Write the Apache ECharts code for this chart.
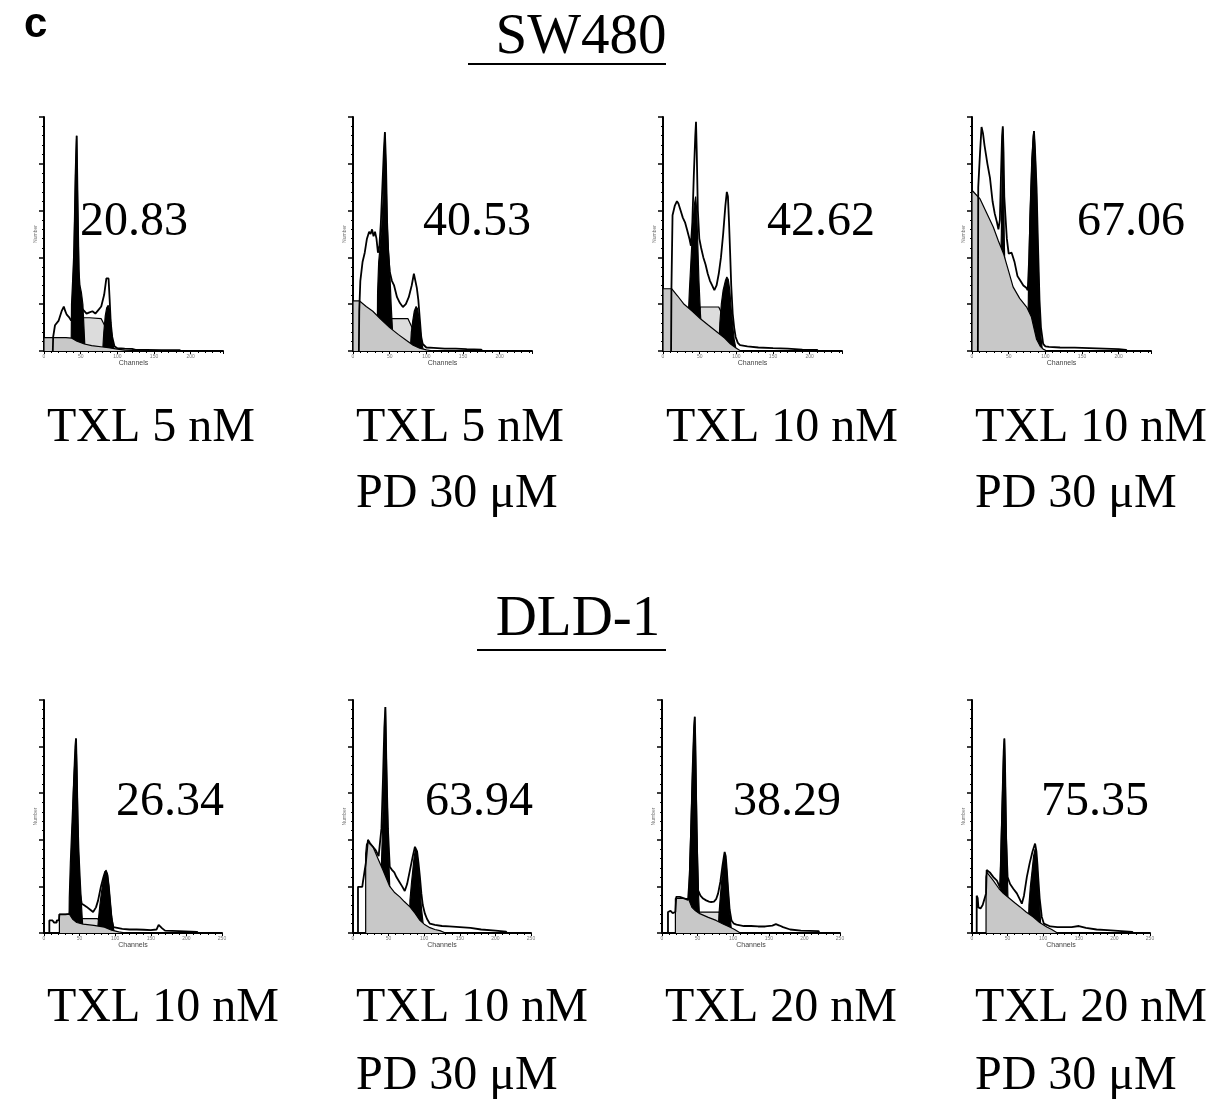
<!DOCTYPE html>
<html>
<head>
<meta charset="utf-8">
<title>SW480 / DLD-1 cell cycle</title>
<script src="https://cdn.jsdelivr.net/npm/echarts@6/dist/echarts.min.js"></script>
<style>
    html, body { margin: 0; padding: 0; background: #fff; }
    #chart { width: 1223px; height: 1104px; }
</style>
</head>
<body>
<div id="chart"></div>
<script>
    // 直方图数据: [channel, 相对计数 0-100]
    // SW480 TXL 5 nM
    const swTxl5Outline = [[12, 0], [12.5, 6], [15, 11], [20, 13], [24, 17], [27, 19], [29, 17], [31, 15.5], [34, 14.5], [37, 13], [39, 14], [41, 40], [43, 75], [44.5, 92], [46, 60], [47.5, 30], [49, 21], [52, 18], [55, 17], [58, 16], [62, 16.5], [66, 17], [70, 16], [74, 17.5], [78, 19], [82, 24], [85, 31], [86.5, 30.5], [88, 31], [89.5, 22], [91, 12], [93, 6], [96, 2], [100, 1.2], [110, 1], [120, 0.9], [125, 0.5], [140, 0.5], [160, 0.4], [185, 0.4], [186, 0]]
    const swTxl5Debris = [[0, 0], [0, 5.7], [30, 5.7], [38, 5.5], [45, 4.2], [55, 3], [65, 2.3], [80, 1.7], [90, 1.3], [100, 0.8], [110, 0.4], [130, 0.2], [180, 0.1], [181, 0]]
    const swTxl5SPhase = [[40, 0], [42, 6], [46, 12.5], [50, 14.2], [62, 14.2], [78, 13.8], [84, 10], [89, 5], [93, 1.5], [96, 0]]
    const swTxl5G1 = [[37, 0], [37.5, 20], [39, 30], [41, 45], [43, 75], [44.5, 92], [46, 60], [47.5, 35], [49, 28], [51, 25], [53, 20], [54.5, 10], [56, 0]]
    const swTxl5G2 = [[80, 0], [81.5, 8], [83.5, 15], [85.5, 18.5], [87.5, 19.5], [89, 18], [90.5, 14], [92, 8], [94, 3], [96, 0]]

    // SW480 TXL 5 nM + PD 30 uM
    const swTxl5PdOutline = [[8, 0], [8.5, 17], [10, 30], [13, 38], [16, 42], [19, 48], [22, 51], [24, 50], [26, 52], [28, 49], [30, 51], [32, 48], [34, 42], [36, 45], [38, 55], [40, 70], [42, 85], [43.5, 93.6], [45, 80], [46.5, 55], [48, 42], [50, 34], [53, 30], [56, 28], [60, 23], [64, 20.5], [68, 18.8], [72, 20], [76, 23], [80, 28], [83, 33], [85, 32.5], [87, 27], [89, 22], [91, 14], [93, 6], [95, 3], [100, 1.5], [110, 1.3], [125, 1], [140, 1], [155, 0.8], [175, 0.6], [176, 0]]
    const swTxl5PdDebris = [[0, 0], [0, 21.4], [9, 21.4], [18, 19], [27, 17], [38, 13.5], [50, 10], [62, 7], [73, 4.5], [82, 2.5], [91, 1.2], [100, 0.5], [110, 0]]
    const swTxl5PdSPhase = [[43, 0], [45, 10], [48, 13.8], [60, 13.8], [75, 13.8], [82, 9], [88, 4], [93, 1], [96, 0]]
    const swTxl5PdG1 = [[33, 0], [33.5, 25], [35, 38], [37, 45], [39, 52], [41, 65], [42.5, 85], [43.5, 93], [45, 75], [46.5, 55], [48, 45], [50, 35], [52, 20], [54, 8], [56, 0]]
    const swTxl5PdG2 = [[78, 0], [79.5, 8], [81.5, 13], [83.5, 17], [86, 19], [88, 18], [90, 14], [92, 8], [94, 3], [96, 0]]

    // SW480 TXL 10 nM
    const swTxl10Outline = [[11, 0], [11.5, 26.6], [13, 58], [16, 62], [19, 64], [21, 63], [24, 60], [27, 57], [30, 55], [33, 51.6], [36, 48], [38, 45], [40, 55], [42, 75], [44, 92], [45, 98], [46, 85], [47.5, 60], [49.5, 48], [52, 44], [55, 40], [58, 37], [61, 33], [64, 30], [67, 28], [70, 26], [73, 28], [76, 33], [79, 40], [82, 50], [85, 62], [87, 68], [88.5, 66], [90, 55], [91.5, 42], [93, 28], [95, 16], [97, 10], [99, 6], [102, 3.5], [105, 2.5], [115, 2], [130, 1.5], [150, 1.2], [170, 1], [190, 0.6], [210, 0.5], [211, 0]]
    const swTxl10Debris = [[0, 0], [0, 26.6], [12, 26.6], [20, 23.5], [28, 20.2], [40, 17], [51, 13.8], [62, 11], [74, 8], [84, 5.5], [92, 3], [100, 1.2], [106, 0]]
    const swTxl10SPhase = [[45, 0], [47, 15], [51, 18.8], [62, 18.8], [76, 18.8], [83, 14], [90, 8], [96, 3], [100, 0]]
    const swTxl10G1 = [[34, 0], [34.5, 15], [36, 26], [38, 38], [40, 50], [42.5, 62], [44.5, 66], [46, 60], [47.5, 45], [49, 30], [51, 16], [53, 6], [55, 0]]
    const swTxl10G2 = [[76, 0], [77.5, 12], [79.5, 20], [82, 26], [85, 30], [87, 31.6], [89, 30.5], [91, 26], [93, 18], [95, 11], [97, 5], [100, 0]]

    // SW480 TXL 10 nM + PD 30 uM
    const swTxl10PdOutline = [[8, 0], [8.5, 70], [11, 85], [13, 95.7], [15, 93], [17, 88], [19, 84], [21, 80], [24.5, 74], [28, 64], [31, 58.7], [34, 55], [36, 52], [38, 56], [39.5, 75], [41, 92], [42, 96], [43, 85], [44, 66], [45.5, 58], [47.5, 48], [50, 41.6], [54, 42], [58, 38], [62, 32], [66, 30], [70, 28], [74, 27], [76, 26], [78, 40], [80, 62], [82, 80], [83.5, 90], [84.5, 94], [86, 85], [88, 70], [90, 45], [92, 22], [94, 10], [97, 3], [100, 2], [105, 1.8], [120, 1.5], [140, 1.4], [160, 1.2], [180, 1], [200, 0.8], [210, 0.5], [211, 0]]
    const swTxl10PdDebris = [[0, 0], [0, 68.7], [5, 67], [11, 65], [20, 59], [29, 53], [36, 47], [43, 41.6], [50, 34], [56, 27.4], [65, 22.5], [74.5, 18.8], [81, 14.5], [85, 9], [88, 5], [93, 2], [97, 0.8], [102, 0]]
    const swTxl10PdSPhase = []
    const swTxl10PdG1 = [[38, 0], [38.5, 30], [40, 50], [41, 75], [42, 95], [43, 72], [44, 48], [45, 30], [46, 10], [47, 0]]
    const swTxl10PdG2 = [[76, 0], [77, 28], [79, 58], [81.5, 82], [83.5, 92], [84.5, 94], [86, 86], [88, 66], [90, 40], [92, 18], [94, 6], [96, 0]]

    // DLD-1 TXL 10 nM
    const dldTxl10Outline = [[7.5, 0], [7.5, 5.4], [12, 5.4], [14, 4.5], [17.8, 4.5], [18, 5.4], [21, 5.4], [21.6, 8], [30, 8], [36, 8.2], [38, 15], [40, 40], [42, 65], [44, 80], [45, 83.5], [46, 70], [48, 35], [50, 18], [53, 12.6], [56, 12], [60, 11.2], [65, 10], [69, 9], [73, 11], [76, 14], [80, 20], [83.5, 24], [86, 26.5], [87.5, 27], [89, 25], [91, 20], [93, 13], [95, 6], [97.5, 2.5], [100, 1.8], [110, 1.8], [120, 1.5], [130, 1.5], [140, 1.4], [150, 1.2], [158, 1.5], [161, 3.5], [163, 4], [166, 2], [170, 1], [190, 0.8], [215, 0.5], [216, 0]]
    const dldTxl10Debris = [[21.6, 0], [21.6, 8], [36, 8], [40, 6], [46, 4.5], [55, 3.8], [70, 3.3], [85, 2.5], [95, 1.2], [105, 0.5], [115, 0]]
    const dldTxl10SPhase = [[46, 0], [48, 5], [52, 6.2], [75, 6.2], [82, 4], [88, 2], [93, 0]]
    const dldTxl10G1 = [[35, 0], [35.5, 15], [37, 30], [39, 45], [41, 60], [43, 72], [44.5, 80], [45, 83.5], [46, 72], [47.5, 50], [49, 35], [51, 22], [53, 10], [55, 0]]
    const dldTxl10G2 = [[75, 0], [76.5, 6], [78.5, 12], [80.5, 17], [82.5, 21], [85, 25], [87, 27], [89, 25.5], [91, 20], [93, 13], [95, 7], [97.5, 2], [99, 0]]

    // DLD-1 TXL 10 nM + PD 30 uM
    const dldTxl10PdOutline = [[7, 0], [7, 19.8], [13, 19.8], [14, 22], [16, 26], [18, 30], [21, 40], [24, 38.5], [28, 37], [32, 35.5], [36, 33], [38, 33], [40, 45], [42, 65], [44, 88], [45.5, 97], [47, 70], [49, 45], [51.6, 28.4], [55, 27], [58, 26], [61, 24], [65, 22], [69, 20], [72.7, 18], [76, 21], [80, 27], [84, 33], [87, 37], [88.5, 37.7], [90, 35], [92, 30], [94, 24], [96, 17], [98, 12], [101, 8.3], [104, 6], [108, 4], [115, 3.5], [125, 3], [135, 2.8], [150, 2.5], [165, 2.2], [180, 1.5], [200, 1], [215, 0.6], [216, 0]]
    const dldTxl10PdDebris = [[17.8, 0], [17.8, 34], [19, 38], [21, 39], [28, 37], [35, 32], [42, 27], [51.6, 20], [58, 17.5], [65.7, 15.5], [72, 13.5], [80, 11.2], [87, 8.5], [94, 5.4], [100, 3.8], [108, 2.3], [115, 1.5], [122, 1], [130, 0]]
    const dldTxl10PdSPhase = []
    const dldTxl10PdG1 = [[39, 0], [39.5, 25], [41, 40], [43, 60], [44.5, 85], [45.5, 97], [46.5, 82], [48, 58], [49.5, 40], [51, 25], [52.5, 12], [54, 0]]
    const dldTxl10PdG2 = [[79, 0], [80, 14], [82, 21], [84, 27], [86, 33], [88, 36], [90, 34], [92, 28], [94, 20], [96, 11], [98.5, 4], [100, 0]]

    // DLD-1 TXL 20 nM
    const dldTxl20Outline = [[8.4, 0], [8.4, 9], [12, 9.5], [15, 8.5], [17.8, 9], [18.8, 9], [20, 15.5], [25, 15.5], [30, 15], [36.6, 14.2], [39, 25], [41, 45], [43, 70], [45, 88], [46, 92.8], [47, 80], [48.5, 45], [50.7, 18.3], [54, 16], [57.7, 14.8], [62, 14], [66, 13.5], [69, 13.3], [73, 13.5], [76, 14.5], [78.8, 17], [82, 22], [85, 29], [87, 33], [88, 34.8], [89.5, 33], [91, 27], [93, 18], [95, 10], [97.6, 5.4], [101, 4], [104.6, 3.6], [115, 3], [125, 3], [135, 2.8], [145, 2.8], [155, 3.2], [160, 3.8], [165, 3.2], [170, 2.5], [180, 1.5], [195, 1], [220, 0.8], [221, 0]]
    const dldTxl20Debris = [[18.8, 0], [18.8, 14.8], [37, 14.8], [42, 11], [47, 9.5], [53, 8.3], [65, 6.7], [76, 5.4], [85, 4], [95, 2.6], [102, 1.5], [110, 0]]
    const dldTxl20SPhase = [[47, 0], [49, 7], [51, 9], [65, 9], [80, 9], [86, 5.5], [92, 2.5], [97, 0]]
    const dldTxl20G1 = [[37, 0], [37.5, 15], [39, 30], [41, 50], [43, 70], [45, 88], [46, 92.8], [47, 78], [48.5, 55], [50, 30], [51.5, 15], [53, 5], [54, 0]]
    const dldTxl20G2 = [[79, 0], [80, 8], [82, 16], [84, 23], [86.5, 30], [88, 33], [89.5, 31.5], [91, 26], [93, 17], [95, 9], [97, 3], [98, 0]]

    // DLD-1 TXL 20 nM + PD 30 uM
    const dldTxl20PdOutline = [[6.6, 0], [6.6, 16], [8, 15], [9, 11], [12, 10.5], [15, 12], [18.3, 15.5], [19.7, 17], [20.6, 27], [25, 26], [30, 24], [35, 22.5], [39.4, 19.5], [41, 35], [43, 60], [44.5, 78], [45.5, 83.5], [46.5, 70], [48, 40], [50, 24], [53.5, 21], [58, 19], [63, 17], [67, 14.5], [70, 12.6], [73, 16], [77, 24], [81, 30], [85, 35], [88.6, 38.4], [90.5, 35], [92, 29], [93, 24], [95, 15], [98, 6.9], [101, 4], [103, 3.2], [110, 2.8], [120, 2.5], [130, 2.5], [140, 2.5], [150, 3], [160, 2.2], [175, 1.5], [190, 1.2], [210, 0.8], [225, 0.5], [226, 0]]
    const dldTxl20PdDebris = [[19.7, 0], [19.7, 24], [21, 26], [30, 22.5], [38, 19], [44, 17], [52, 15], [60, 13], [67.5, 11.2], [76, 9], [86, 6.9], [95, 4.5], [105, 2.6], [112, 1.5], [120, 0]]
    const dldTxl20PdSPhase = []
    const dldTxl20PdG1 = [[39, 0], [39.5, 20], [41, 40], [43, 62], [44.5, 78], [45.5, 83.5], [46.5, 72], [47.5, 52], [49, 32], [50.5, 15], [52, 0]]
    const dldTxl20PdG2 = [[79, 0], [80, 12], [82, 20], [84.5, 27], [86.5, 33], [88.6, 36], [90, 34.5], [91.5, 29], [93, 21], [95, 12], [97, 0]]

    // 每个面板的百分比数值和处理条件
    const percentValues = ['20.83', '40.53', '42.62', '67.06', '26.34', '63.94', '38.29', '75.35']
    const treatmentLabels = [
        ['TXL 5 nM'], ['TXL 5 nM', 'PD 30 μM'], ['TXL 10 nM'], ['TXL 10 nM', 'PD 30 μM'],
        ['TXL 10 nM'], ['TXL 10 nM', 'PD 30 μM'], ['TXL 20 nM'], ['TXL 20 nM', 'PD 30 μM']
    ]
    const cellLines = ['SW480', 'DLD-1']
    const channelMax = [244, 250]

    const panels = [
        [swTxl5Outline, swTxl5Debris, swTxl5SPhase, swTxl5G1, swTxl5G2],
        [swTxl5PdOutline, swTxl5PdDebris, swTxl5PdSPhase, swTxl5PdG1, swTxl5PdG2],
        [swTxl10Outline, swTxl10Debris, swTxl10SPhase, swTxl10G1, swTxl10G2],
        [swTxl10PdOutline, swTxl10PdDebris, swTxl10PdSPhase, swTxl10PdG1, swTxl10PdG2],
        [dldTxl10Outline, dldTxl10Debris, dldTxl10SPhase, dldTxl10G1, dldTxl10G2],
        [dldTxl10PdOutline, dldTxl10PdDebris, dldTxl10PdSPhase, dldTxl10PdG1, dldTxl10PdG2],
        [dldTxl20Outline, dldTxl20Debris, dldTxl20SPhase, dldTxl20G1, dldTxl20G2],
        [dldTxl20PdOutline, dldTxl20PdDebris, dldTxl20PdSPhase, dldTxl20PdG1, dldTxl20PdG2]
    ]

    // 布局
    const gridLefts = [44, 353, 663, 972, 44, 353, 662, 972]
    const rowTops = [117, 700]
    const rowHeights = [234, 233]
    const rowWidths = [179, 178]
    const valueCenters = [134, 477, 821, 1131, 170, 479, 787, 1095]
    const valueBaselines = [238, 818]
    const labelBaselines = [[444, 510], [1024, 1092]]
    const serif = 'Liberation Serif, Times New Roman, serif'

    const grids = []
    const xAxes = []
    const yAxes = []
    const series = []
    const graphics = []

    function fillSeries (idx, data, fill, z) {
        return {
            type: 'line',
            xAxisIndex: idx,
            yAxisIndex: idx,
            data: data,
            symbol: 'none',
            silent: true,
            z: z,
            lineStyle: { color: '#000', width: 1.2 },
            areaStyle: { color: fill, opacity: 1 }
        }
    }

    panels.forEach((p, i) => {
        const row = i < 4 ? 0 : 1
        grids.push({ left: gridLefts[i], top: rowTops[row], width: rowWidths[row], height: rowHeights[row] })
        xAxes.push({
            type: 'value',
            gridIndex: i,
            min: 0,
            max: channelMax[row],
            interval: 50,
            name: 'Channels',
            nameLocation: 'middle',
            nameGap: 9,
            nameTextStyle: { fontSize: 7, color: '#444', fontFamily: 'Liberation Sans' },
            axisLine: { lineStyle: { color: '#000', width: 2 } },
            axisTick: { length: 3, lineStyle: { color: '#000' } },
            minorTick: { show: true, splitNumber: 5, length: 2, lineStyle: { color: '#000' } },
            axisLabel: {
                fontSize: 5,
                color: '#777',
                margin: 3,
                formatter: v => (v % 50 === 0 ? String(v) : '')
            },
            splitLine: { show: false }
        })
        yAxes.push({
            type: 'value',
            gridIndex: i,
            min: 0,
            max: 100,
            interval: 20,
            name: 'Number',
            nameLocation: 'middle',
            nameGap: 6,
            nameTextStyle: { fontSize: 5, color: '#777' },
            axisLine: { show: true, lineStyle: { color: '#000', width: 2 } },
            axisTick: { show: true, length: 5, lineStyle: { color: '#000', width: 1.5 } },
            minorTick: { show: true, splitNumber: 5, length: 2, lineStyle: { color: '#000' } },
            axisLabel: { show: false },
            splitLine: { show: false }
        })
        // S期, G1/G2 峰, 碎片, 最后画总轮廓
        series.push(fillSeries(i, p[2], '#dcdcdc', 2))
        series.push(fillSeries(i, p[3], '#000', 3))
        series.push(fillSeries(i, p[4], '#000', 3))
        series.push(fillSeries(i, p[1], '#c8c8c8', 4))
        series.push({
            type: 'line',
            xAxisIndex: i,
            yAxisIndex: i,
            data: p[0],
            symbol: 'none',
            silent: true,
            z: 5,
            lineStyle: { color: '#000', width: 1.8 }
        })

        graphics.push({
            type: 'text',
            x: valueCenters[i],
            y: valueBaselines[row] - 16,
            style: { text: percentValues[i], font: '48px ' + serif, fill: '#000', align: 'center', verticalAlign: 'middle' }
        })
        treatmentLabels[i].forEach((t, k) => {
            graphics.push({
                type: 'text',
                x: gridLefts[i] + 3,
                y: labelBaselines[row][k] - 16,
                style: { text: t, font: '48px ' + serif, fill: '#000', align: 'left', verticalAlign: 'middle' }
            })
        })
    })

    // 面板字母和细胞系标题
    graphics.push({
        type: 'text', x: 24, y: 25,
        style: { text: 'c', font: 'bold 42px Liberation Sans, Arial, sans-serif', fill: '#000', align: 'left', verticalAlign: 'middle' }
    })
    const titleCenters = [[581, 38], [578, 620]]
    const underlines = [[468, 666, 64], [477, 666, 650]]
    cellLines.forEach((name, k) => {
        graphics.push({
            type: 'text', x: titleCenters[k][0], y: titleCenters[k][1],
            style: { text: name, font: '57px ' + serif, fill: '#000', align: 'center', verticalAlign: 'middle' }
        })
        graphics.push({
            type: 'line',
            shape: { x1: underlines[k][0], y1: underlines[k][2], x2: underlines[k][1], y2: underlines[k][2] },
            style: { stroke: '#000', lineWidth: 2 }
        })
    })

    const chart = echarts.init(document.getElementById('chart'))
    chart.setOption({
        animation: false,
        backgroundColor: '#fff',
        grid: grids,
        xAxis: xAxes,
        yAxis: yAxes,
        series: series,
        graphic: graphics
    })
</script>
</body>
</html>
